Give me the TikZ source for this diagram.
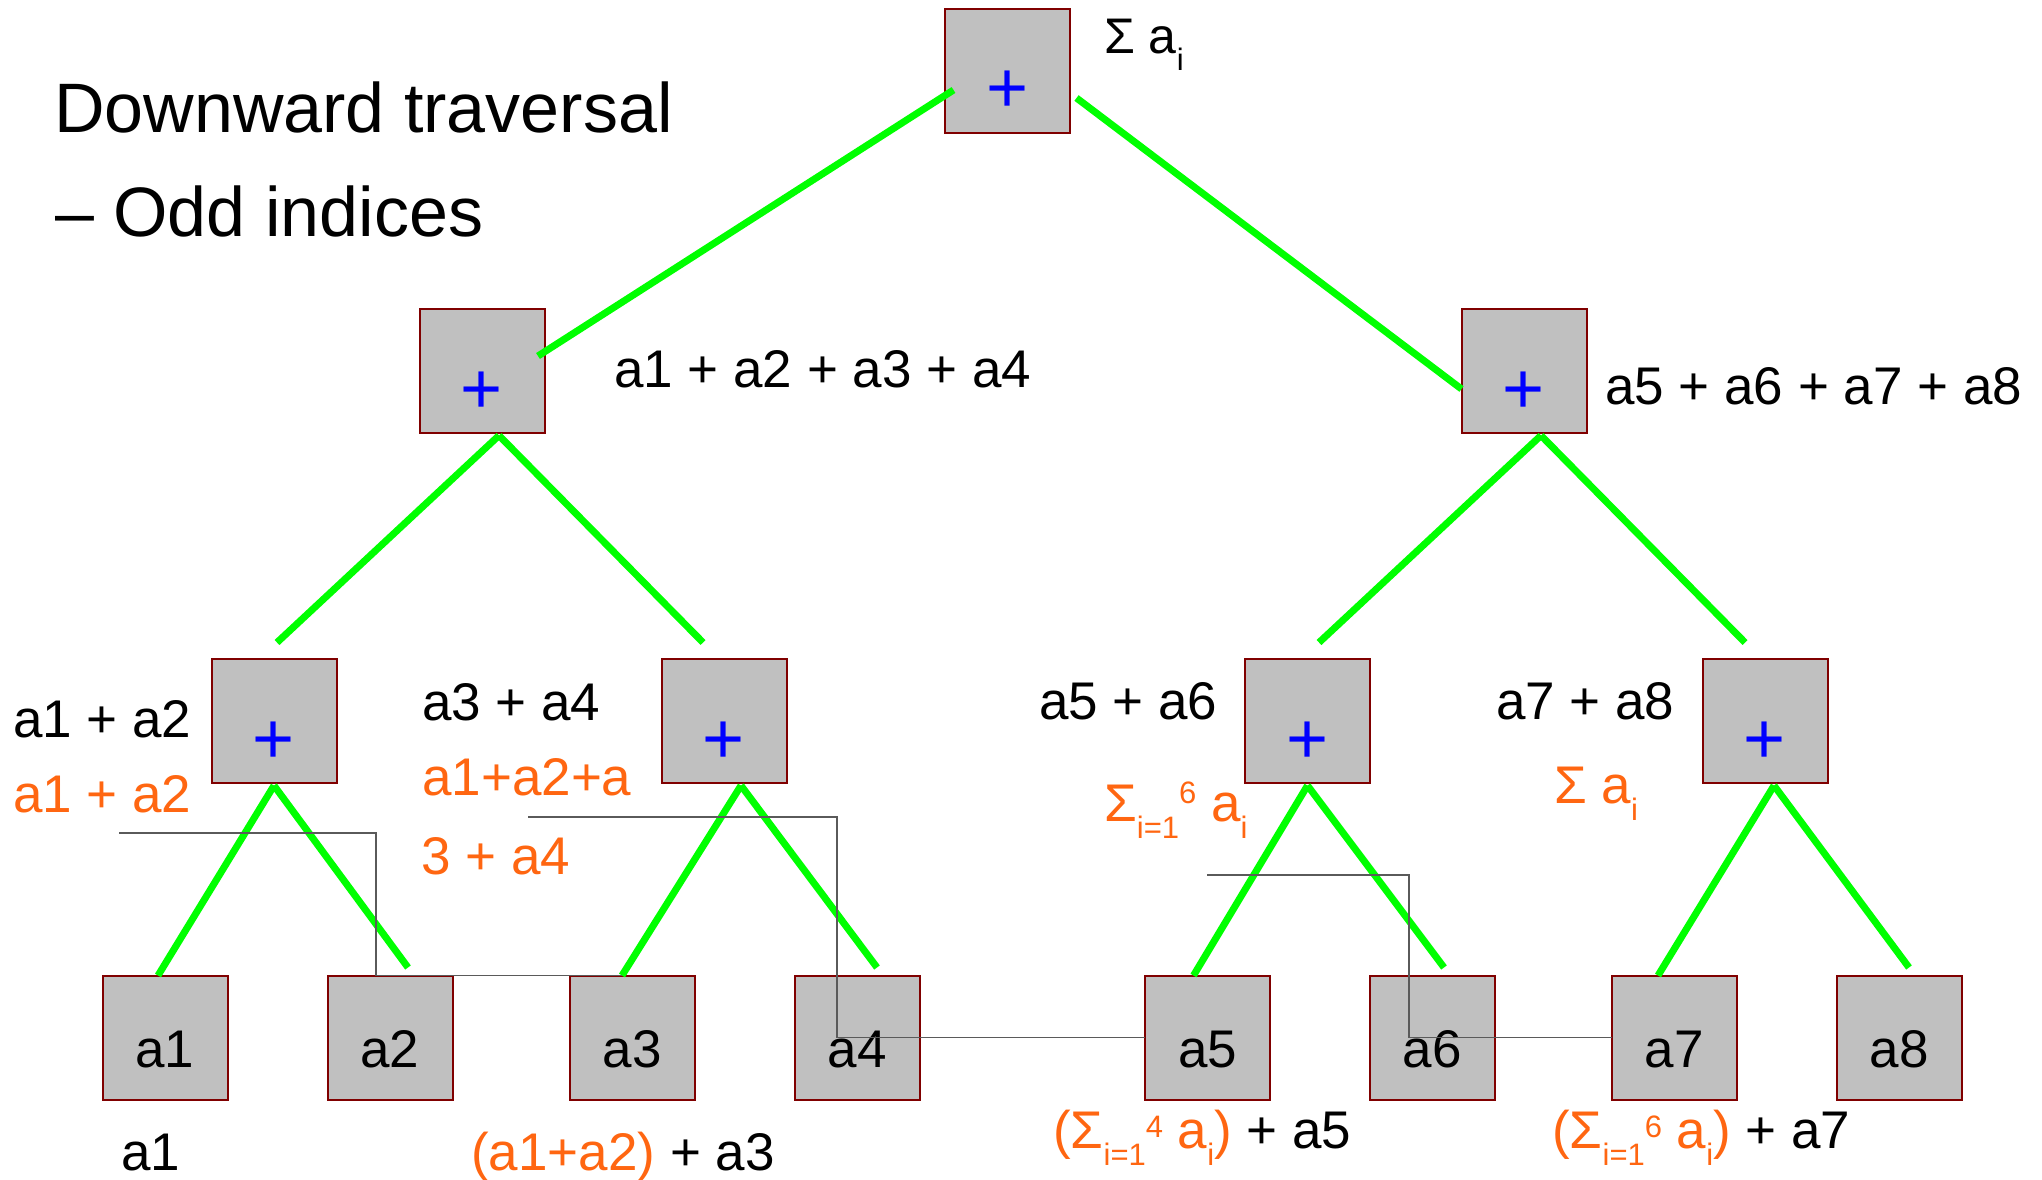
\documentclass[tikz,border=0pt]{standalone}
\usepackage{fontspec}
\setmainfont{Liberation Sans}
\usetikzlibrary{calc}
\definecolor{boxfill}{RGB}{192,192,192}
\definecolor{boxline}{RGB}{128,0,0}
\definecolor{edgegreen}{RGB}{0,255,0}
\definecolor{hl}{RGB}{255,102,17}
\definecolor{plusblue}{RGB}{0,0,255}
\definecolor{thingray}{RGB}{90,90,90}
\newcommand{\lo}[1]{\raisebox{-17pt}{\fontsize{31}{33}\selectfont #1}}
\newcommand{\hi}[2][18pt]{\raisebox{#1}{\fontsize{31}{33}\selectfont #2}}
\begin{document}
\begin{tikzpicture}[x=1pt,y=-1pt,
  opbox/.style={draw=boxline, fill=boxfill, line width=2pt, minimum width=125pt, minimum height=124pt, inner sep=0pt, outer sep=0pt},
  plussign/.style={anchor=base, inner sep=0pt, text=plusblue, font=\fontsize{72}{80}\selectfont},
  leaftext/.style={anchor=base, inner sep=0pt, font=\fontsize{53}{60}\selectfont},
  lbl/.style={anchor=base west, inner sep=0pt, font=\fontsize{53}{60}\selectfont},
  ttl/.style={anchor=base west, inner sep=0pt, font=\fontsize{70}{80}\selectfont},
  greenedge/.style={draw=edgegreen, line width=7pt},
  thinlink/.style={draw=thingray, line width=1.5pt}]
\fill[white] (0,0) rectangle (2042,1179);
\useasboundingbox (0,0) rectangle (2042,1179);

% operator boxes
\node[opbox] (t)  at (1007.5,70.5) {};
\node[opbox] (m1) at (482,371) {};
\node[opbox] (m2) at (1524,371) {};
\node[opbox] (b1) at (274,721) {};
\node[opbox] (b2) at (724,721) {};
\node[opbox] (b3) at (1307.5,721) {};
\node[opbox] (b4) at (1765,721) {};
% leaves
\node[opbox] (l1) at (165,1037.5) {};
\node[opbox] (l2) at (390,1037.5) {};
\node[opbox] (l3) at (632,1037.5) {};
\node[opbox] (l4) at (857,1037.5) {};
\node[opbox] (l5) at (1207.5,1037.5) {};
\node[opbox] (l6) at (1432,1037.5) {};
\node[opbox] (l7) at (1674,1037.5) {};
\node[opbox] (l8) at (1899,1037.5) {};

\foreach \n in {t,m1,m2,b1,b2,b3,b4}
  \node[plussign] (\n-plus) at ($(\n.center)+(0,42)$) {+};
\foreach \i in {1,...,8}
  \node[leaftext] (l\i-txt) at ($(l\i.center)+(0,30)$) {a\i};

% green tree edges
\coordinate (tL) at ($(t.west)+(8.5,19.5)$);
\coordinate (tR) at ($(t.east)+(6.5,27.5)$);
\coordinate (m1in) at ($(m1.east)+(-6.5,-15)$);
\coordinate (m2in) at ($(m2.west)+(0,18)$);
\draw[greenedge] (tL) -- (m1in);
\draw[greenedge] (tR) -- (m2in);

\coordinate (m1ap) at ($(m1.south)+(17,2.5)$);
\coordinate (m2ap) at ($(m2.south)+(17,2.5)$);
\coordinate (b1in) at ($(b1.north)+(3,-16.5)$);
\coordinate (b2in) at ($(b2.north)+(-21,-16.5)$);
\coordinate (b3in) at ($(b3.north)+(11.5,-16.5)$);
\coordinate (b4in) at ($(b4.north)+(-20,-16.5)$);
\draw[greenedge] (m1ap) -- (b1in);
\draw[greenedge] (m1ap) -- (b2in);
\draw[greenedge] (m2ap) -- (b3in);
\draw[greenedge] (m2ap) -- (b4in);

\coordinate (b1ap) at ($(b1.south)+(0,2.5)$);
\coordinate (b2ap) at ($(b2.south)+(17,2.5)$);
\coordinate (b3ap) at ($(b3.south)+(0,2.5)$);
\coordinate (b4ap) at ($(b4.south)+(9,2.5)$);
\draw[greenedge] (b1ap) -- ($(l1.north)+(-7,0)$);
\draw[greenedge] (b1ap) -- ($(l2.north)+(18,-8)$);
\draw[greenedge] (b2ap) -- ($(l3.north)+(-10,0)$);
\draw[greenedge] (b2ap) -- ($(l4.north)+(20,-8)$);
\draw[greenedge] (b3ap) -- ($(l5.north)+(-14,0)$);
\draw[greenedge] (b3ap) -- ($(l6.north)+(12,-8)$);
\draw[greenedge] (b4ap) -- ($(l7.north)+(-16,0)$);
\draw[greenedge] (b4ap) -- ($(l8.north)+(10,-8)$);

% labels
\node[ttl] (title1) at (54,132) {Downward traversal};
\node[ttl] (title2) at (55,236) {– Odd indices};
\node[lbl, font=\fontsize{50}{60}\selectfont] (sumtop) at (1104,53) {Σ a\lo{i}};
\node[lbl] (m1lab) at (614,387) {a1 + a2 + a3 + a4};
\node[lbl] (m2lab) at (1605,404) {a5 + a6 + a7 + a8};
\node[lbl] (b1lab) at (13,737) {a1 + a2};
\node[lbl, text=hl] (b1res) at (13,812) {a1 + a2};
\node[lbl] (b2lab) at (422,720) {a3 + a4};
\node[lbl, text=hl] (b2res1) at (422,795) {a1+a2+a};
\node[lbl, text=hl] (b2res2) at (421,874) {3 + a4};
\node[lbl] (b3lab) at (1039,719) {a5 + a6};
\node[lbl, text=hl] (b3res) at (1104,821) {Σ\lo{i=1}\hi{6} a\lo{i}};
\node[lbl] (b4lab) at (1496,719) {a7 + a8};
\node[lbl, text=hl] (b4res) at (1554,803) {Σ a\lo{i}};
\node[lbl] (r1) at (121,1170) {a1};
\node[lbl] (r3) at (471,1170) {\textcolor{hl}{(a1+a2)} + a3};
\node[lbl] (r5) at (1053,1148) {\textcolor{hl}{(Σ\lo{i=1}\hi[11pt]{4} a\lo{i})} + a5};
\node[lbl] (r7) at (1552,1148) {\textcolor{hl}{(Σ\lo{i=1}\hi[11pt]{6} a\lo{i})} + a7};

% thin links
\coordinate (s1) at (119,833);
\coordinate (s2) at (528,817);
\coordinate (s3) at (1207,875);
\draw[thinlink] (s1) -| ($(l2.north)+(-14,0)$) -- ($(l3.north)+(-10,0)$);
\draw[thinlink] (s2) -| ($(l4.center)+(-20,0)$) -- (l5.west);
\draw[thinlink] (s3) -| ($(l6.center)+(-23,0)$) -- (l7.west);
\end{tikzpicture}
\end{document}
